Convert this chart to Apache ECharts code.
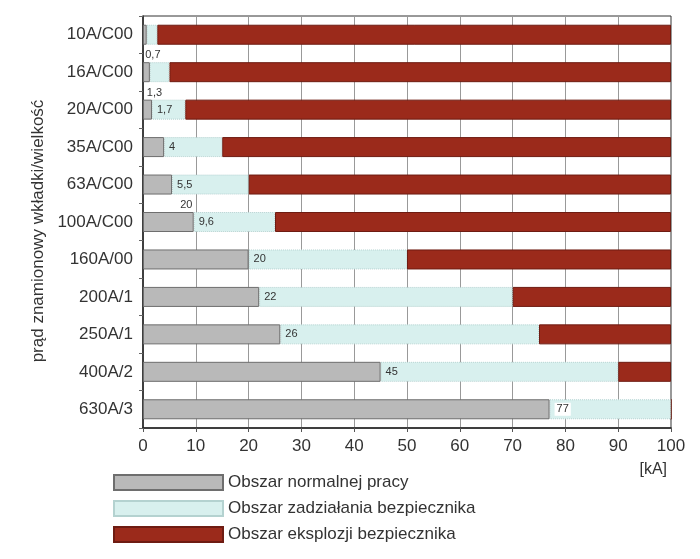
<!DOCTYPE html>
<html>
<head>
<meta charset="utf-8">
<script src="https://cdn.jsdelivr.net/npm/echarts@6/dist/echarts.min.js"></script>
<style>
  html, body { margin: 0; padding: 0; background: #fff; }
  #chart { width: 700px; height: 559px; }
</style>
</head>
<body>
<div id="chart"></div>
<script>
const categories = ["10A/C00", "16A/C00", "20A/C00", "35A/C00", "63A/C00", "100A/C00", "160A/00", "200A/1", "250A/1", "400A/2", "630A/3"];
// end of normal area [kA]
const normalValues = [0.7, 1.3, 1.7, 4, 5.5, 9.6, 20, 22, 26, 45, 77];
// end of fuse operating area [kA]
const fuseLimit = [2.7, 5, 8, 15, 20, 25, 50, 70, 75, 90, 100];
const normalLabels = ["0,7", "1,3", "1,7", "4", "5,5", "9,6", "20", "22", "26", "45", "77"];
const xTicks = [0, 10, 20, 30, 40, 50, 60, 70, 80, 90, 100];
const seriesNames = ["Obszar normalnej pracy", "Obszar zadziałania bezpiecznika", "Obszar eksplozji bezpiecznika"];

const FONT = "Liberation Sans";

const chart = echarts.init(document.getElementById("chart"));

// gray bars, labels to the right (first two rows: below the bar)
const normalData = normalValues.map((v, i) => {
  let item = { value: v, label: { formatter: normalLabels[i] } };
  if (i < 2) {
    item.label.position = "bottom";
    item.label.distance = 5;
    item.label.offset = [8, 0];
  }
  if (i == categories.length - 1) {
    item.label.backgroundColor = "#fff";
    item.label.padding = [1, 2];
  }
  return item;
});

const fuseData = fuseLimit.map((v, i) => {
  let item = { value: +(v - normalValues[i]).toFixed(2) };
  // stray "20" under the 63A row in the original
  if (i == 4) {
    item.label = { show: true, formatter: "20", position: "bottom", distance: 5, offset: [-24, 0] };
  }
  return item;
});

const blowData = fuseLimit.map((v) => +(100 - v).toFixed(2));

const option = {
  animation: false,
  textStyle: { fontFamily: FONT },
  title: {
    text: "[kA]",
    right: 28,
    top: 457,
    textStyle: { fontFamily: FONT, fontSize: 16, fontWeight: "normal", color: "#333" },
  },
  legend: {
    orient: "vertical",
    left: 113,
    top: 474,
    padding: 0,
    icon: "rect",
    itemWidth: 109,
    itemHeight: 15,
    itemGap: 9,
    selectedMode: false,
    textStyle: { fontFamily: FONT, fontSize: 17, color: "#333" },
    data: seriesNames,
  },
  grid: {
    left: 143,
    right: 29,
    top: 16,
    bottom: 131,
    show: true,
    borderColor: "#333",
    borderWidth: 1,
  },
  xAxis: {
    type: "value",
    min: 0,
    max: 100,
    interval: 10,
    axisLine: { show: true, lineStyle: { color: "#222", width: 1.5 } },
    axisTick: { show: true, length: 4, lineStyle: { color: "#555" } },
    axisLabel: {
      fontFamily: FONT,
      fontSize: 17,
      color: "#333",
      margin: 10,
      formatter: (v) => (xTicks.indexOf(v) >= 0 ? String(v) : ""),
    },
    splitLine: { show: true, lineStyle: { color: "#999", width: 1 } },
  },
  yAxis: {
    type: "category",
    inverse: true,
    data: categories,
    name: "prąd znamionowy wkładki/wielkość",
    nameLocation: "middle",
    nameGap: 96,
    nameTextStyle: { fontFamily: FONT, fontSize: 17, color: "#333", padding: [0, 18, 0, 0] },
    axisLine: { show: true, lineStyle: { color: "#222", width: 1.5 } },
    axisTick: { show: true, length: 4, lineStyle: { color: "#666" } },
    axisLabel: { fontFamily: FONT, fontSize: 17, color: "#333", margin: 10 },
    splitLine: { show: false },
  },
  series: [
    {
      name: seriesNames[0],
      type: "bar",
      stack: "total",
      barWidth: 20,
      z: 4,
      itemStyle: { color: "#b9b9b9", borderColor: "#6e6e6e", borderWidth: 1 },
      label: {
        show: true,
        position: "right",
        distance: 5,
        fontFamily: FONT,
        fontSize: 11,
        color: "#333",
      },
      data: normalData,
    },
    {
      name: seriesNames[1],
      type: "bar",
      stack: "total",
      barWidth: 20,
      z: 3,
      itemStyle: { color: "#d8f0ee", borderColor: "#b4d2d0", borderWidth: 1, borderType: "dotted" },
      label: { fontFamily: FONT, fontSize: 11, color: "#333" },
      data: fuseData,
    },
    {
      name: seriesNames[2],
      type: "bar",
      stack: "total",
      barWidth: 20,
      z: 2,
      itemStyle: { color: "#9b2a1b", borderColor: "#6e1c12", borderWidth: 1 },
      data: blowData,
    },
  ],
};

chart.setOption(option);
</script>
</body>
</html>
